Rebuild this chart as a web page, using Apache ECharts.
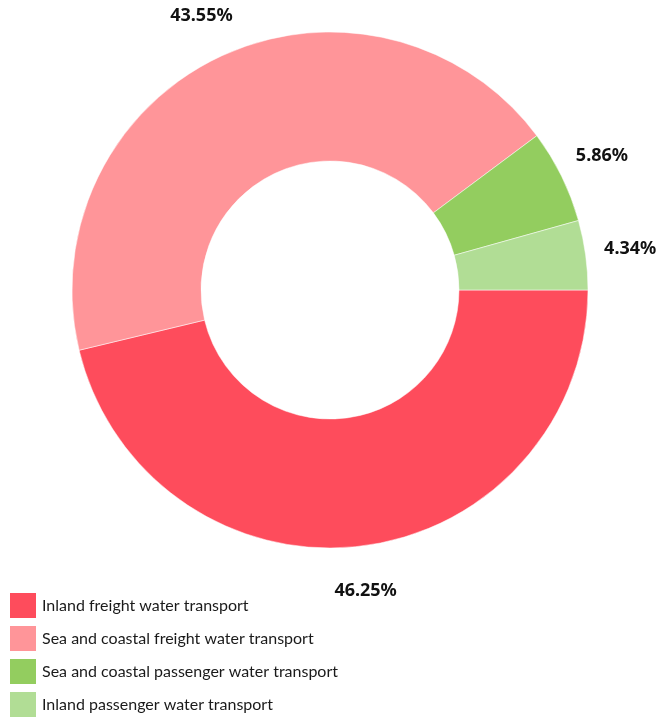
<!DOCTYPE html>
<html><head><meta charset="utf-8">
<script src="https://cdn.jsdelivr.net/npm/echarts@6/dist/echarts.min.js"></script>
<style>html,body{margin:0;padding:0;background:#fff}#c{width:656px;height:717px}</style>
</head><body><div id="c"></div>
<script>
const categories = ['Inland freight water transport','Sea and coastal freight water transport','Sea and coastal passenger water transport','Inland passenger water transport'];
const values = [46.25, 43.55, 5.86, 4.34];
const colors = ['#FE4C5C','#FF9599','#93CD5F','#B1DD95'];

const chart = echarts.init(document.getElementById('c'));
const data = categories.map((n,i)=>({name:n, value:values[i], itemStyle:{color:colors[i]}}));
chart.setOption({
  animation:false,
  legend:{
    orient:'vertical', left:8, top:591, height:200, padding:0, itemWidth:28, itemHeight:27, itemGap:4,
    icon:'rect', selectedMode:false,
    textStyle:{fontFamily:'Lato', fontSize:16, color:'#1a1a1a', padding:[0,0,0,0]},
    data: categories.map((n,i)=>({name:n, itemStyle:{color:colors[i]}}))
  },
  series:[
    {type:'pie', center:[330,290], radius:[129,258], startAngle:0, clockwise:true,
     silent:true, label:{show:false}, labelLine:{show:false},
     itemStyle:{borderColor:'#fff', borderWidth:0.5},
     data:data},
    {type:'pie', center:[330,290], radius:[258,342], startAngle:0, clockwise:true,
     silent:true, legendHoverLink:false, z:5,
     itemStyle:{color:'rgba(0,0,0,0)'},
     label:{show:true, position:'inside', formatter:p=>p.value.toFixed(2)+'%',
       fontFamily:'Noto Sans', fontWeight:700, fontSize:18, color:'#111'},
     labelLine:{show:false},
     data:categories.map((n,i)=>({name:n, value:values[i], itemStyle:{color:'rgba(0,0,0,0)'}}))}
  ]
});
</script></body></html>
